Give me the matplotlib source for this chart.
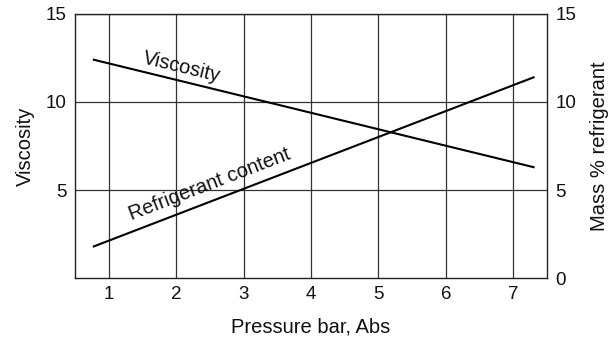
import numpy as np
import matplotlib
matplotlib.use("Agg")
import matplotlib.pyplot as plt

plt.rcParams['font.family'] = ['Liberation Sans', 'DejaVu Sans']

# Pressure (bar, Abs) at the ends of each straight-line relation
pressure = [0.78, 7.3]
viscosity = [12.4, 6.3]
refrigerant = [1.8, 11.4]

x_ticks = [1, 2, 3, 4, 5, 6, 7]
left_ticks = [5, 10, 15]
right_ticks = [0, 5, 10, 15]

fig = plt.figure(figsize=(6.14, 3.4), dpi=100)
ax = fig.add_axes([0.122, 0.182, 0.769, 0.777])
ax.set_xlim(0.5, 7.5)
ax.set_ylim(0, 15)

ax.set_xticks(x_ticks)
ax.set_yticks(left_ticks)
ax.grid(True, color='#333333', linewidth=0.9)
ax.tick_params(length=0, labelsize=13.5, pad=6, labelcolor='#111111')
for s in ax.spines.values():
    s.set_linewidth(1.0)
    s.set_color('#222222')

ax.plot(pressure, viscosity, color='black', linewidth=1.5)
ax.plot(pressure, refrigerant, color='black', linewidth=1.5)

ax.set_xlabel('Pressure bar, Abs', fontsize=14.5, labelpad=10, color='#111111')
ax.set_ylabel('Viscosity', fontsize=14.5, labelpad=8, color='#111111')

ax2 = ax.twinx()
ax2.set_ylim(0, 15)
ax2.set_yticks(right_ticks)
ax2.tick_params(length=0, labelsize=13.5, pad=6, labelcolor='#111111')
ax2.set_ylabel('Mass % refrigerant', fontsize=14.5, labelpad=10, color='#111111')
for s in ax2.spines.values():
    s.set_visible(False)


def line_angle(xs, ys):
    p = ax.transData.transform(np.column_stack([xs, ys]))
    d = p[1] - p[0]
    return np.degrees(np.arctan2(d[1], d[0]))


ax.text(2.08, 11.95, 'Viscosity', fontsize=14.5, ha='center', va='center',
        rotation=line_angle(pressure, viscosity), rotation_mode='anchor',
        color='#111111')
ax.text(2.5, 5.3, 'Refrigerant content', fontsize=14.5, ha='center', va='center',
        rotation=line_angle(pressure, refrigerant), rotation_mode='anchor',
        color='#111111')

fig.savefig('out.png', dpi=100)
